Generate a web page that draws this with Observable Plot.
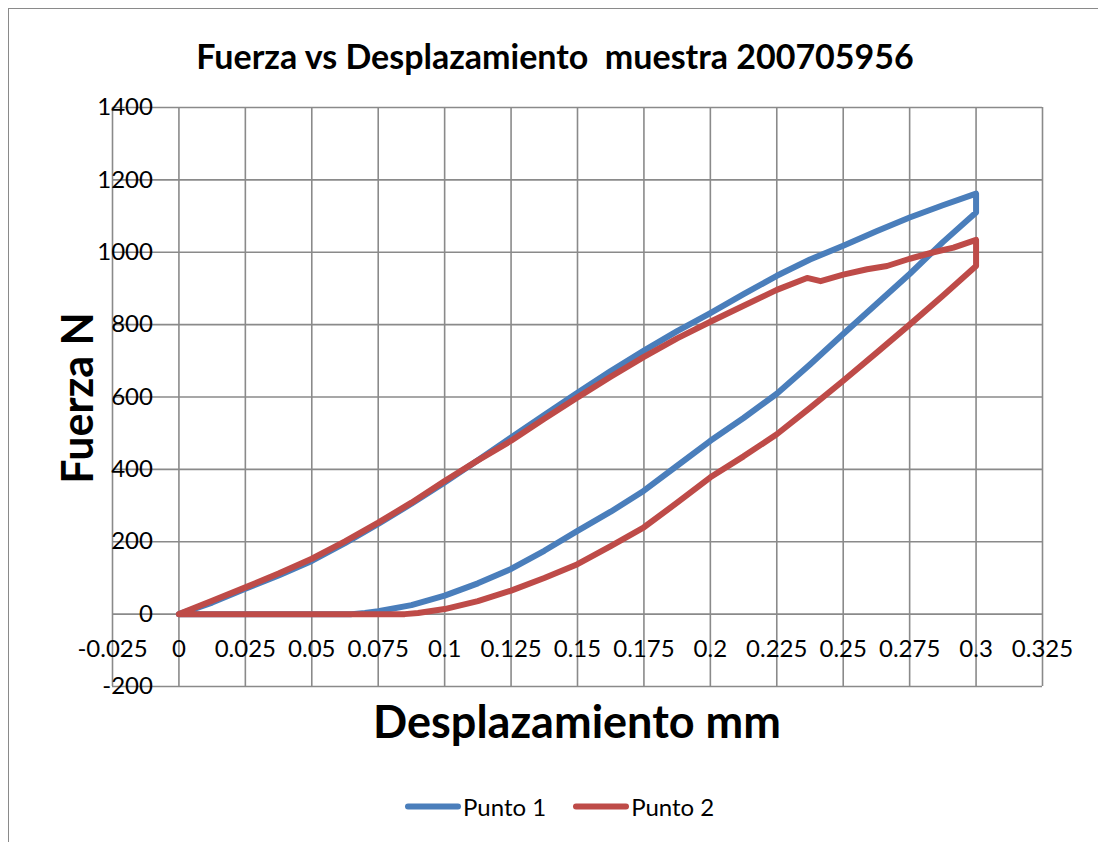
<!DOCTYPE html>
<html>
<head>
<meta charset="utf-8">
<script src="https://cdn.jsdelivr.net/npm/d3@7"></script>
<script src="https://cdn.jsdelivr.net/npm/@observablehq/plot@0.6"></script>
<style>
  html, body { margin: 0; padding: 0; background: #fff; }
  #wrap { position: relative; width: 1098px; height: 842px; overflow: hidden; background: #fff; font-family: Lato, "Open Sans", sans-serif; }
  #frame { position: absolute; left: 8px; top: 8px; width: 1300px; height: 1000px; border: 1.5px solid #8a8a8a; box-sizing: border-box; }
  #chart { position: absolute; left: 0; top: 0; }
  .lbl { position: absolute; transform: translate(-50%, -50%); white-space: pre; color: #000; font-weight: 700; }
  #legend { position: absolute; left: 405px; top: 806px; transform: translateY(-50%); display: flex; align-items: center; font-size: 24px; color: #000; }
  .sw { display: inline-block; width: 56px; height: 6px; border-radius: 3px; margin-right: 2px; }
</style>
</head>
<body>
<div id="wrap">
  <div id="frame"></div>
  <div id="chart"></div>
  <div class="lbl" style="left:555px; top:55px; font-size:34px;">Fuerza vs Desplazamiento  muestra 200705956</div>
  <div class="lbl" style="left:76px; top:398px; font-size:43px; transform: translate(-50%, -50%) rotate(-90deg);">Fuerza N</div>
  <div class="lbl" style="left:577px; top:721px; font-size:45px;">Desplazamiento mm</div>
  <div id="legend"></div>
</div>
<script>
// ---- Data ----
const seriesNames = ["Punto 1", "Punto 2"];
const seriesColors = ["#4A7EBB", "#BE4B48"];

// Punto 1: loading, drop at max displacement, unloading, return along zero
const p1X = [0, 0.0125, 0.025, 0.0375, 0.05, 0.0625, 0.075, 0.0875, 0.1, 0.1125, 0.125, 0.1375, 0.15, 0.1625, 0.175, 0.1875, 0.2, 0.2125, 0.225, 0.2375, 0.25, 0.2625, 0.275, 0.2875, 0.3,
             0.3, 0.2875, 0.275, 0.2625, 0.25, 0.2375, 0.225, 0.2125, 0.2, 0.1875, 0.175, 0.1625, 0.15, 0.1375, 0.125, 0.1125, 0.1, 0.0875, 0.075, 0.07, 0.065, 0.03, 0];
const p1Y = [0, 32, 70, 107, 147, 196, 249, 305, 364, 425, 488, 550, 612, 672, 728, 782, 832, 884, 935, 980, 1018, 1058, 1096, 1130, 1162,
             1110, 1028, 940, 857, 774, 690, 609, 542, 479, 410, 341, 283, 230, 175, 125, 85, 51, 25, 8, 3, 0, 0, 0];

// Punto 2
const p2X = [0, 0.0125, 0.025, 0.0375, 0.05, 0.0625, 0.075, 0.0875, 0.1, 0.1125, 0.125, 0.1375, 0.15, 0.1625, 0.175, 0.1875, 0.2, 0.2125, 0.225, 0.2364, 0.2415, 0.25, 0.259, 0.2665, 0.275, 0.284, 0.2915, 0.3,
             0.3, 0.2875, 0.275, 0.2625, 0.25, 0.2375, 0.225, 0.2125, 0.2, 0.1875, 0.175, 0.1625, 0.15, 0.1375, 0.125, 0.1125, 0.1, 0.09, 0.085, 0.04, 0];
const p2Y = [0, 37, 74, 112, 153, 201, 253, 308, 368, 425, 479, 540, 599, 656, 711, 762, 808, 852, 896, 929, 920, 938, 953, 962, 982, 1000, 1013, 1034,
             962, 880, 800, 722, 645, 570, 497, 436, 378, 308, 240, 188, 138, 100, 65, 36, 14, 3, 0, 0, 0];

// Ticks
const xTicks = [-0.025, 0, 0.025, 0.05, 0.075, 0.1, 0.125, 0.15, 0.175, 0.2, 0.225, 0.25, 0.275, 0.3, 0.325];
const xTickLabels = ["-0.025", "0", "0.025", "0.05", "0.075", "0.1", "0.125", "0.15", "0.175", "0.2", "0.225", "0.25", "0.275", "0.3", "0.325"];
const yTicks = [-200, 0, 200, 400, 600, 800, 1000, 1200, 1400];
const yTickLabels = ["-200", "0", "200", "400", "600", "800", "1000", "1200", "1400"];

// ---- Build table ----
const rows = [
  ...p1X.map((x, i) => ({x, y: p1Y[i], s: seriesNames[0]})),
  ...p2X.map((x, i) => ({x, y: p2Y[i], s: seriesNames[1]}))
];
const xt = xTicks.map((v, i) => ({v, t: xTickLabels[i]}));
const yt = yTicks.map((v, i) => ({v, t: yTickLabels[i]}));

const gridColor = "#8a8a8a";
const chart = Plot.plot({
  width: 1098,
  height: 842,
  marginLeft: 112,
  marginRight: 56,
  marginTop: 107,
  marginBottom: 156,
  style: {fontFamily: "Lato, 'Open Sans', sans-serif", background: "transparent", overflow: "visible"},
  x: {domain: [-0.025, 0.325], axis: null},
  y: {domain: [-200, 1400], axis: null},
  color: {domain: seriesNames, range: seriesColors},
  marks: [
    Plot.ruleX(xTicks, {stroke: gridColor, strokeWidth: 1.6}),
    Plot.ruleY(yTicks, {stroke: gridColor, strokeWidth: 1.6}),
    Plot.line(rows, {x: "x", y: "y", z: "s", stroke: "s", strokeWidth: 6, strokeLinejoin: "round", strokeLinecap: "round", curve: "linear"}),
    Plot.text(xt, {x: "v", y: () => 0, text: "t", dy: 35, fontSize: 24, fill: "#000", textAnchor: "middle"}),
    Plot.text(yt, {x: () => 0, y: "v", text: "t", dx: -26, fontSize: 24, fill: "#000", textAnchor: "end"})
  ]
});
document.getElementById("chart").appendChild(chart);

// ---- Legend ----
const legend = document.getElementById("legend");
seriesNames.forEach((name, i) => {
  const item = document.createElement("span");
  item.style.display = "inline-flex";
  item.style.alignItems = "center";
  item.style.marginRight = i === 0 ? "27px" : "0";
  const sw = document.createElement("span");
  sw.className = "sw";
  sw.style.background = seriesColors[i];
  item.appendChild(sw);
  item.appendChild(document.createTextNode(name));
  legend.appendChild(item);
});
</script>
</body>
</html>
